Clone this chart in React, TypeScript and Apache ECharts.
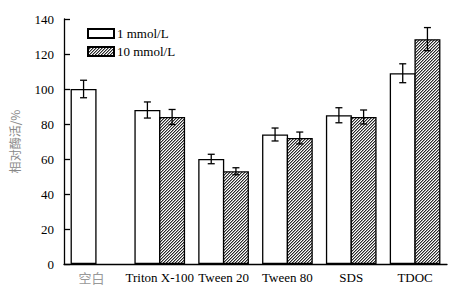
import React, { useEffect, useRef } from "react";
import * as echarts from "echarts";

const categories = ["空白", "Triton X-100", "Tween 20", "Tween 80", "SDS", "TDOC"];
const seriesNames = ["1 mmol/L", "10 mmol/L"];
const low = [100, 88, 60, 74, 85, 109];
const lowErr = [5, 4.6, 2.7, 3.7, 4.3, 5.4];
const high: (number | null)[] = [null, 84, 53, 72, 84, 128.5];
const highErr: (number | null)[] = [null, 4.3, 2, 3.4, 4, 6.6];
const yTicks = { min: 0, max: 140, interval: 20 };

const BAR_W = 26;
const BORDER = 1.3;

function errorSeries(vals: (number | null)[], errs: (number | null)[], offset: number) {
  const data = vals.map((v, i) => (v == null || errs[i] == null ? null : [i, v, errs[i]]));
  return {
    type: "custom",
    silent: true,
    z: 10,
    data: data.filter((d) => d != null),
    renderItem: (params: any, api: any) => {
      const i = api.value(0);
      const v = api.value(1);
      const e = api.value(2);
      const top = api.coord([i, v + e]);
      const bot = api.coord([i, v - e]);
      const x = top[0] + offset;
      const cap = 3.5;
      const style = { stroke: "#000", lineWidth: 1.3 };
      return {
        type: "group",
        children: [
          { type: "line", shape: { x1: x, y1: top[1], x2: x, y2: bot[1] }, style },
          { type: "line", shape: { x1: x - cap, y1: top[1], x2: x + cap, y2: top[1] }, style },
          { type: "line", shape: { x1: x - cap, y1: bot[1], x2: x + cap, y2: bot[1] }, style },
        ],
      };
    },
  };
}

function makeHatch(): string {
  const c = document.createElement("canvas");
  c.width = 3;
  c.height = 3;
  const ctx = c.getContext("2d")!;
  ctx.fillStyle = "#fff";
  ctx.fillRect(0, 0, 3, 3);
  for (let x = 0; x < 3; x++) {
    for (let y = 0; y < 3; y++) {
      const s = (x + y) % 3;
      if (s === 2) {
        ctx.fillStyle = "#2a2a2a";
        ctx.fillRect(x, y, 1, 1);
      } else if (s === 0) {
        ctx.fillStyle = "#9a9a9a";
        ctx.fillRect(x, y, 1, 1);
      }
    }
  }
  return c.toDataURL();
}

export default function App() {
  const ref = useRef<HTMLDivElement>(null);
  useEffect(() => {
    if (!ref.current) return;
    const chart = echarts.init(ref.current, null, { renderer: "svg" });
    const serif = "Liberation Serif, Times New Roman, serif";
    const hatchFill = { image: makeHatch(), repeat: "repeat", imageWidth: 3, imageHeight: 3 };
    const half = (BAR_W * 2 - BORDER) / 2 - BAR_W / 2;
    chart.setOption({
      animation: false,
      backgroundColor: "#fff",
      grid: { left: 57, right: 13, top: 19, bottom: 27 },
      legend: {
        left: 82,
        top: 22,
        orient: "vertical",
        icon: "rect",
        itemWidth: 26,
        itemHeight: 9,
        itemGap: 5,
        textStyle: { fontFamily: serif, fontSize: 13, color: "#000", padding: [0, 0, 0, -2] },
        data: seriesNames,
      },
      xAxis: {
        type: "category",
        data: categories,
        axisTick: { show: false },
        axisLine: { lineStyle: { color: "#000", width: 1.3 } },
        axisLabel: {
          margin: 7,
          fontFamily: serif,
          fontSize: 13,
          color: "#000",
          interval: 0,
          formatter: (v: string) => (v === "空白" ? "{g|" + v + "}" : v),
          rich: { g: { color: "#999", fontFamily: "Noto Sans CJK SC", fontSize: 13, padding: [0, 9, 0, 0] } },
        },
      },
      yAxis: {
        type: "value",
        min: yTicks.min,
        max: yTicks.max,
        interval: yTicks.interval,
        name: "相对酶活/%",
        nameLocation: "middle",
        nameRotate: 90,
        nameGap: 44,
        nameTextStyle: { color: "#888", fontSize: 12, fontFamily: "Noto Sans CJK SC" },
        splitLine: { show: false },
        axisLine: { show: true, lineStyle: { color: "#000", width: 1.3 } },
        axisTick: { show: true, inside: true, length: 6, lineStyle: { color: "#000", width: 1.3 } },
        axisLabel: { fontFamily: serif, fontSize: 13, color: "#000", margin: 10 },
      },
      series: [
        {
          name: seriesNames[0],
          type: "bar",
          data: low,
          barWidth: BAR_W,
          barGap: "-5%",
          itemStyle: { color: "#fff", borderColor: "#000", borderWidth: BORDER },
        },
        {
          name: seriesNames[1],
          type: "bar",
          data: high,
          barWidth: BAR_W,
          barGap: "-5%",
          itemStyle: { color: hatchFill, borderColor: "#000", borderWidth: BORDER },
        },
        errorSeries(low, lowErr, -half),
        errorSeries(high, highErr, half),
      ],
    });
    return () => chart.dispose();
  }, []);
  return <div ref={ref} style={{ width: 460, height: 291, position: "absolute", left: 0, top: 0 }} />;
}
